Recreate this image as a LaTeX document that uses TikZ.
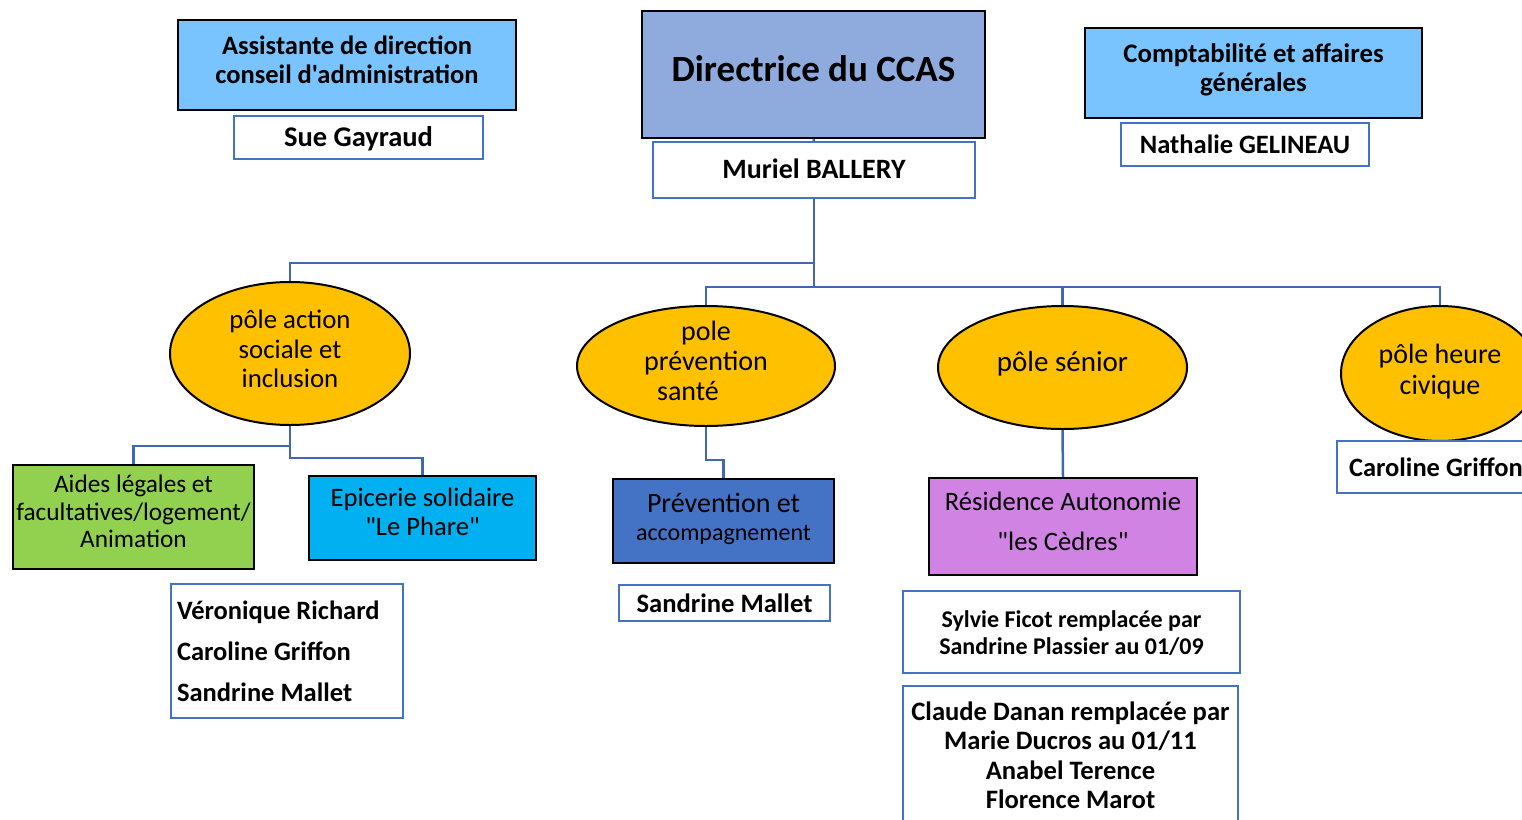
\documentclass[tikz,border=0pt]{standalone}
\usepackage{fontspec}
\newfontfamily\carl{Carlito}
\usetikzlibrary{shapes.geometric}
\definecolor{hdrblue}{HTML}{79C4FE}
\definecolor{dirblue}{HTML}{8FAADC}
\definecolor{bordblue}{HTML}{4472C4}
\definecolor{linkblue}{HTML}{4167B1}
\definecolor{poleyel}{HTML}{FFC000}
\definecolor{aidegreen}{HTML}{92D050}
\definecolor{epicyan}{HTML}{00B0F0}
\definecolor{prevblue}{HTML}{4472C4}
\definecolor{respurple}{HTML}{D083E3}
\newcommand{\fsz}[2]{\carl\fontsize{#1}{#2}\selectfont}
\newcommand{\ml}[2]{\raisebox{#1}[\height][\depth]{\begin{tabular}{@{}c@{}}#2\end{tabular}}}
\begin{document}
\begin{tikzpicture}[x=1pt,y=-1pt,
 hdr/.style={rectangle,draw=black,line width=2.5pt,inner sep=0pt},
 namebox/.style={rectangle,draw=bordblue,line width=2pt,fill=white,inner sep=0pt},
 pole/.style={ellipse,draw=black,line width=2pt,fill=poleyel,inner sep=-20pt},
 unit/.style={rectangle,draw=black,line width=2.5pt,inner sep=0pt},
 link/.style={draw=linkblue,line width=2.5pt}]
\useasboundingbox (0,0) rectangle (1522,819);
\clip (0,0) rectangle (1522,819);
\fill[white] (0,0) rectangle (1522,819);

% top boxes
\node[hdr,fill=hdrblue,minimum width=338pt,minimum height=90pt,font=\bfseries\fsz{26.5}{29}] (asst) at (347,65) {\ml{1.5pt}{Assistante de direction\\conseil d'administration}};
\node[namebox,minimum width=249pt,minimum height=43pt,font=\bfseries\fsz{28.5}{31}] (sue) at (358.5,137.5) {\ml{-3pt}{Sue Gayraud}};
\node[hdr,fill=dirblue,minimum width=343pt,minimum height=127pt,font=\bfseries\fsz{37}{40}] (dir) at (813.5,74.5) {\ml{1pt}{Directrice du CCAS}};
\node[namebox,minimum width=322pt,minimum height=56pt,font=\bfseries\fsz{28}{31}] (mur) at (814,170) {\ml{-2pt}{Muriel BALLERY}};
\node[hdr,fill=hdrblue,minimum width=337pt,minimum height=90pt,font=\bfseries\fsz{26.8}{29}] (compta) at (1253.5,73) {\ml{1.5pt}{Comptabilité et affaires\\générales}};
\node[namebox,minimum width=248pt,minimum height=43pt,font=\bfseries\fsz{26.5}{30}] (nath) at (1245,144.5) {\ml{-2.5pt}{Nathalie GELINEAU}};

% poles
\node[pole,minimum width=240pt,minimum height=143pt,font=\fsz{26.8}{29.5}] (pa) at (290,353.5) {\ml{1pt}{pôle action\\sociale et\\inclusion}};
\node[pole,minimum width=258pt,minimum height=120pt,font=\fsz{28}{30}] (pp) at (706,366) {\ml{2pt}{pole\\prévention\\santé\hspace*{36pt}}};
\node[pole,minimum width=249pt,minimum height=123pt,font=\fsz{29}{31}] (ps) at (1062.5,367.5) {\ml{2pt}{pôle sénior}};
\node[pole,minimum width=198pt,minimum height=135pt,font=\fsz{28}{31}] (ph) at (1440,373.5) {\ml{1pt}{pôle heure\\civique}};

% units
\node[unit,fill=aidegreen,minimum width=241pt,minimum height=104pt,font=\fsz{25.3}{27.5}] (aides) at (133.5,517) {\ml{2.5pt}{Aides légales et\\facultatives/logement/\\Animation}};
\node[unit,fill=epicyan,minimum width=227pt,minimum height=84pt,font=\fsz{26.6}{29}] (epi) at (422.5,518) {\ml{2.5pt}{Epicerie solidaire\\"Le Phare"}};
\node[unit,fill=prevblue,minimum width=221pt,minimum height=84pt,font=\fsz{28}{28}] (prev) at (723.5,521) {\ml{0.5pt}{Prévention et\\{\fsz{24}{28}accompagnement}}};
\node[unit,fill=respurple,minimum width=268pt,minimum height=97pt,font=\fsz{26.6}{40}] (res) at (1063,526.5) {\ml{4pt}{Résidence Autonomie\\"les Cèdres"}};

% names
\node[namebox,minimum width=232pt,minimum height=134pt,text width=220pt,align=flush left,font=\bfseries\fsz{26.5}{41}] (vero) at (287,651) {Véronique Richard\\Caroline Griffon\\Sandrine Mallet};
\node[namebox,minimum width=211pt,minimum height=36pt,font=\bfseries\fsz{26.6}{29}] (sm) at (724.5,603) {\ml{-4pt}{Sandrine Mallet}};
\node[namebox,minimum width=337pt,minimum height=82pt,font=\bfseries\fsz{24}{27}] (syl) at (1071.5,632) {\ml{-3.5pt}{Sylvie Ficot remplacée par\\Sandrine Plassier au 01/09}};
\node[namebox,minimum width=335pt,minimum height=138pt,font=\bfseries\fsz{26.6}{29.3}] (cla) at (1070.5,755) {\ml{-3.5pt}{Claude Danan remplacée par\\Marie Ducros au 01/11\\Anabel Terence\\Florence Marot}};
\node[namebox,minimum width=200pt,minimum height=52pt,text width=176pt,align=flush left,font=\bfseries\fsz{26.5}{29}] (car) at (1437,467) {Caroline Griffon};

% connectors
\coordinate (jmain) at (814,287);
\coordinate (jleft) at (814,263);
\draw[link] (dir.south) -- (mur.north);
\draw[link] (mur.south) -- (jmain);
\draw[link] (jleft) -| (pa.north);
\draw[link] (jmain) -| (ph.north);
\draw[link] (jmain) -| (pp.north);
\draw[link] (ps.north |- jmain) -- (ps.north);
\draw[link] (pa.south) -- ++(0,20) -| (aides.north);
\draw[link] (pa.south) -- ++(0,32) -| (epi.north);
\draw[link] (pp.south) -- ++(0,33) -| (prev.north);
\draw[link] (ps.south) -- (res.north);
\end{tikzpicture}
\end{document}
